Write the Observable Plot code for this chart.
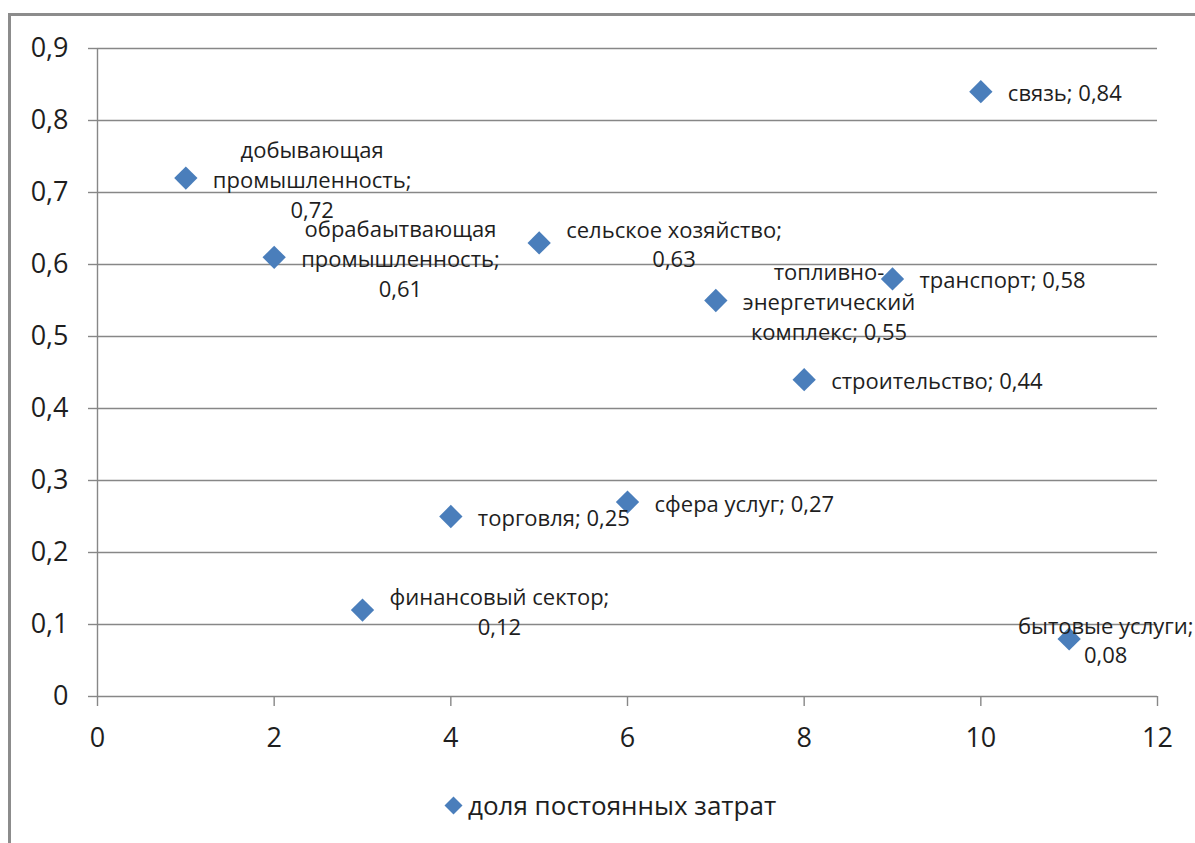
<!DOCTYPE html>
<html><head><meta charset="utf-8">
<script src="https://cdn.jsdelivr.net/npm/d3@7"></script>
<script src="https://cdn.jsdelivr.net/npm/@observablehq/plot@0.6"></script>
<style>
html,body{margin:0;padding:0;background:#fff;width:1195px;height:843px;overflow:hidden;}
#frame{position:absolute;left:8px;top:13px;width:1400px;height:1000px;border:3px solid #8c8c8c;box-sizing:border-box;}
#chart{position:absolute;left:0;top:0;}
#legend{position:absolute;left:444px;top:788px;height:34px;display:flex;align-items:center;font-family:"Open Sans",sans-serif;font-size:26px;color:#1e1e1e;white-space:nowrap;}
#legend svg{margin-right:5px;}
</style></head><body>
<div id="frame"></div>
<div id="chart"></div>
<div id="legend"></div>
<script>
// ---- data ----
const sectorIndex = [1, 2, 3, 4, 5, 6, 7, 8, 9, 10, 11];
const fixedCostShare = [0.72, 0.61, 0.12, 0.25, 0.63, 0.27, 0.55, 0.44, 0.58, 0.84, 0.08];
const sectors = [
  "добывающая промышленность", "обрабаытвающая промышленность", "финансовый сектор",
  "торговля", "сельское хозяйство", "сфера услуг", "топливно-энергетический комплекс",
  "строительство", "транспорт", "связь", "бытовые услуги"
];
const dataLabels = [
  "добывающая\nпромышленность;\n0,72",
  "обрабаытвающая\nпромышленность;\n0,61",
  "финансовый сектор;\n0,12",
  "торговля; 0,25",
  "сельское хозяйство;\n0,63",
  "сфера услуг; 0,27",
  "топливно-\nэнергетический\nкомплекс; 0,55",
  "строительство; 0,44",
  "транспорт; 0,58",
  "связь; 0,84",
  "бытовые услуги;\n0,08"
];
const xTicks = [0, 2, 4, 6, 8, 10, 12];
const yTicks = [0, 0.1, 0.2, 0.3, 0.4, 0.5, 0.6, 0.7, 0.8, 0.9];
const seriesName = "доля постоянных затрат";

// ---- layout ----
const W = 1195, H = 770;
const mL = 97, mR = 38, mT = 48, mB = 74;
const blue = "#4A7EBB", grid = "#878787";
const labelSize = 22;
const fontFam = "'Open Sans', sans-serif";

const rows = sectorIndex.map((x, i) => ({x, y: fixedCostShare[i], sector: sectors[i], label: dataLabels[i]}));

const ctx = document.createElement("canvas").getContext("2d");
ctx.font = `${labelSize}px 'Open Sans'`;
const xScale = Plot.scale({x: {domain: [0, 12], range: [mL, W - mR]}});
const gap = 27;

const labelMarks = rows.map(r => {
  const w = d3.max(r.label.split("\n"), s => ctx.measureText(s).width);
  let dx = gap + w / 2;
  const maxDx = W - 2 - w / 2 - xScale.apply(r.x);
  dx = Math.min(dx, maxDx);
  return Plot.text([r], {
    x: "x", y: "y", text: "label", dx,
    textAnchor: "middle", lineAnchor: "middle", lineHeight: 1.36,
    fontSize: labelSize, fill: "#1e1e1e"
  });
});

const chart = Plot.plot({
  width: W, height: H,
  marginLeft: mL, marginRight: mR, marginTop: mT, marginBottom: mB,
  style: {fontFamily: fontFam, background: "transparent", overflow: "visible"},
  x: {domain: [0, 12], label: null},
  y: {domain: [0, 0.9], label: null},
  marks: [
    Plot.ruleY(yTicks, {x1: 0, x2: 12, stroke: grid, strokeWidth: 1.4}),
    Plot.ruleX([0], {y1: 0, y2: 0.9, stroke: grid, strokeWidth: 1.4}),
    Plot.axisY({ticks: yTicks, tickSize: 9, tickPadding: 20, fontSize: 27,
      tickFormat: d => String(d).replace(".", ","), stroke: grid, strokeWidth: 1.4, fill: "#1e1e1e"}),
    Plot.axisX({ticks: xTicks, tickSize: 10, tickPadding: 21, fontSize: 27,
      stroke: grid, strokeWidth: 1.4, fill: "#1e1e1e"}),
    Plot.dot(rows, {x: "x", y: "y", symbol: "diamond2", r: 10.5, fill: blue, stroke: "none"}),
    ...labelMarks
  ]
});
document.getElementById("chart").appendChild(chart);

document.getElementById("legend").innerHTML =
  `<svg width="19" height="19" viewBox="0 0 19 19"><path d="M9.5 0.5 L18.5 9.5 L9.5 18.5 L0.5 9.5 Z" fill="${blue}"/></svg><span>${seriesName}</span>`;
</script>
</body></html>
